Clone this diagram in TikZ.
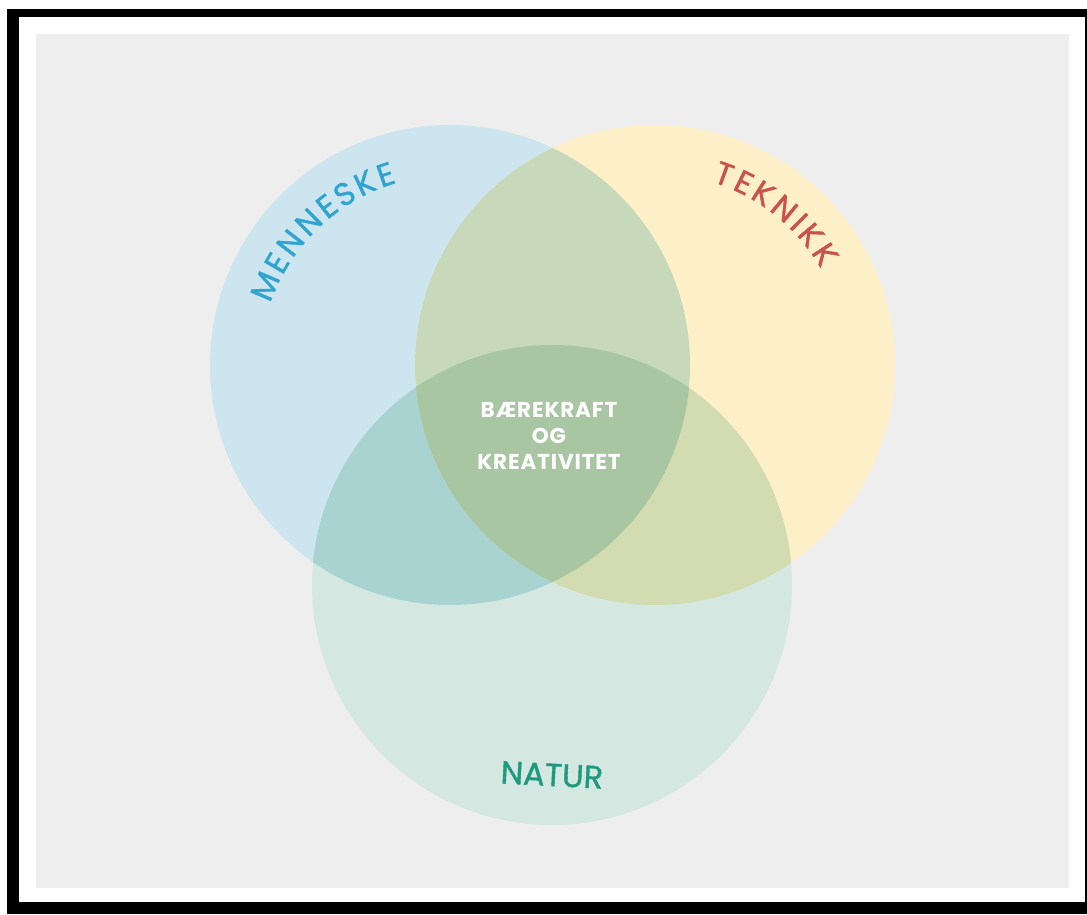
\documentclass[tikz,border=0pt]{standalone}
\usepackage{fontspec}
\setmainfont{Poppins}
\newfontfamily\etikett[FakeBold=1.2]{Poppins}
\newfontfamily\midtskrift[LetterSpace=4]{Poppins}
\usetikzlibrary{calc}

\definecolor{bakgrunn}{HTML}{EEEEEE}
\definecolor{menneskefyll}{HTML}{CDE5EF}
\definecolor{teknikkfyll}{HTML}{FDEFC8}
\definecolor{naturfyll}{HTML}{D5E7E1}
\definecolor{mtfyll}{HTML}{C8D8BB}
\definecolor{mnfyll}{HTML}{A8D3D1}
\definecolor{tnfyll}{HTML}{D3DCB0}
\definecolor{midtfyll}{HTML}{A9C6A3}
\definecolor{menneskeblaa}{HTML}{2FA4D1}
\definecolor{teknikkrod}{HTML}{C8524C}
\definecolor{naturgronn}{HTML}{1E9A7E}

\begin{document}
\begin{tikzpicture}[
    x = 1pt, y = 1pt,
    letter/.style = {
      inner sep = 0pt,
      font = \etikett\fontsize{32}{32}\selectfont
    }
  ]
  \useasboundingbox (0,0) rectangle (1087,914);

  % The frame
  \fill[white]     (0,0)   rectangle (1087,914);
  \fill[black]     (7,0)   rectangle (1087,905);
  \fill[white]     (19,12) rectangle (1085,897);
  \fill[bakgrunn]  (36,26) rectangle (1069,880);

  % The three circles
  \coordinate (menneske) at (450,549);
  \coordinate (teknikk)  at (655,549);
  \coordinate (natur)    at (552,329);

  \fill[menneskefyll] (menneske) circle (240);
  \fill[teknikkfyll]  (teknikk)  circle (240);
  \fill[naturfyll]    (natur)    circle (240);

  % The overlaps
  \begin{scope}
    \clip (menneske) circle (240);
    \fill[mtfyll] (teknikk) circle (240);
    \fill[mnfyll] (natur)   circle (240);
  \end{scope}
  \begin{scope}
    \clip (teknikk) circle (240);
    \fill[tnfyll] (natur) circle (240);
  \end{scope}
  \begin{scope}
    \clip (menneske) circle (240);
    \clip (teknikk)  circle (240);
    \fill[midtfyll] (natur) circle (240);
  \end{scope}

  % The curved labels
  \foreach \ch/\ang [count=\i] in {M/156.9, E/149.5, N/142.6, N/134.7,
                                   E/127.8, S/121.7, K/115.1, E/108.7} {
    \node[letter, text = menneskeblaa, rotate = \ang-90] (m\i)
      at ($(menneske)+(\ang:201)$) {\ch};
  }
  \foreach \ch/\ang [count=\i] in {T/70.1, E/64.0, K/57.7, N/50.4,
                                   I/44.8, K/39.8, K/33.0} {
    \node[letter, text = teknikkrod, rotate = \ang-90] (t\i)
      at ($(teknikk)+(\ang:203)$) {\ch};
  }
  \node[letter, text = naturgronn, rotate = -3] (naturtekst) at (552,139) {NATUR};

  % The middle
  \node[align = center, text = white,
        font = \midtskrift\bfseries\fontsize{21.5}{26}\selectfont] (midt)
    at (549,478) {BÆREKRAFT\\OG\\KREATIVITET};
\end{tikzpicture}
\end{document}
